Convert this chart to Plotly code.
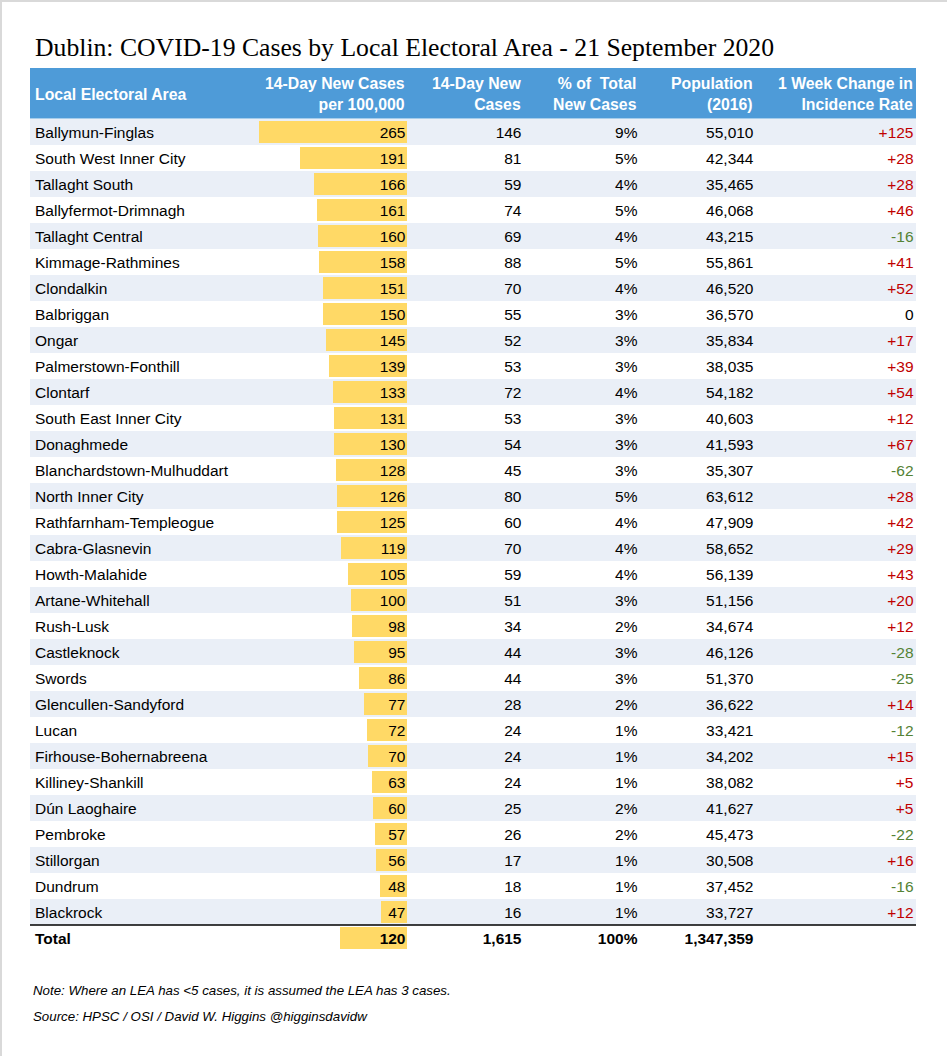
import plotly.graph_objects as go

names = ["Ballymun-Finglas", "South West Inner City", "Tallaght South", "Ballyfermot-Drimnagh",
         "Tallaght Central", "Kimmage-Rathmines", "Clondalkin", "Balbriggan", "Ongar",
         "Palmerstown-Fonthill", "Clontarf", "South East Inner City", "Donaghmede",
         "Blanchardstown-Mulhuddart", "North Inner City", "Rathfarnham-Templeogue",
         "Cabra-Glasnevin", "Howth-Malahide", "Artane-Whitehall", "Rush-Lusk", "Castleknock",
         "Swords", "Glencullen-Sandyford", "Lucan", "Firhouse-Bohernabreena", "Killiney-Shankill",
         "Dún Laoghaire", "Pembroke", "Stillorgan", "Dundrum", "Blackrock"]
rate = [265, 191, 166, 161, 160, 158, 151, 150, 145, 139, 133, 131, 130, 128, 126, 125,
        119, 105, 100, 98, 95, 86, 77, 72, 70, 63, 60, 57, 56, 48, 47]
cases = [146, 81, 59, 74, 69, 88, 70, 55, 52, 53, 72, 53, 54, 45, 80, 60,
         70, 59, 51, 34, 44, 44, 28, 24, 24, 24, 25, 26, 17, 18, 16]
pct = [9, 5, 4, 5, 4, 5, 4, 3, 3, 3, 4, 3, 3, 3, 5, 4,
       4, 4, 3, 2, 3, 3, 2, 1, 1, 1, 2, 2, 1, 1, 1]
population = [55010, 42344, 35465, 46068, 43215, 55861, 46520, 36570, 35834, 38035, 54182,
              40603, 41593, 35307, 63612, 47909, 58652, 56139, 51156, 34674, 46126, 51370,
              36622, 33421, 34202, 38082, 41627, 45473, 30508, 37452, 33727]
change = [125, 28, 28, 46, -16, 41, 52, 0, 17, 39, 54, 12, 67, -62, 28, 42,
          29, 43, 20, 12, -28, -25, 14, -12, 15, 5, 5, -22, 16, -16, 12]

total_label = "Total"
total_rate = 120
total_cases = 1615
total_pct = 100
total_population = 1347359

headers = ["Local Electoral Area", "14-Day New Cases<br>per 100,000", "14-Day New<br>Cases",
           "% of  Total<br>New Cases", "Population<br>(2016)", "1 Week Change in<br>Incidence Rate"]

title = "Dublin: COVID-19 Cases by Local Electoral Area - 21 September 2020"
note1 = "Note: Where an LEA has <5 cases, it is assumed the LEA has 3 cases."
note2 = "Source: HPSC / OSI / David W. Higgins @higginsdavidw"

# ---- layout geometry (pixels) ----
W, H = 947, 1056
L, R, T, B = 30, 31, 119, 105
PW, PH = W - L - R, H - T - B
ROW_PX = PH / 32.0


def px_x(px):
    return (px - L) / PW


def px_y(py):
    return (H - B - py) / PH


FONT = "Liberation Sans, Arial, sans-serif"
FS = 15.5
HFS = 15.8
BLUE = "#4E9BD8"
STRIPE = "#EAEFF7"
GOLD = "#FFD966"
RED = "#C00000"
GREEN = "#548235"

cats = names + [total_label]
col_x = [px_x(35), px_x(405.5), px_x(521.5), px_x(637.5), px_x(753.5), px_x(913.5)]
hdr_x = [px_x(33), px_x(407), px_x(523), px_x(639), px_x(755), px_x(915)]

fig = go.Figure()

# row stripes (bottom subplot)
fig.add_trace(go.Bar(
    y=names, x=[1] * len(names), orientation="h", width=1,
    marker=dict(color=[STRIPE if i % 2 == 0 else "rgba(0,0,0,0)" for i in range(len(names))],
                line=dict(width=0)),
    xaxis="x", yaxis="y", hoverinfo="skip", showlegend=False))

# in-cell bars (middle subplot)
fig.add_trace(go.Bar(
    y=cats, x=rate + [total_rate], orientation="h", width=0.85,
    marker=dict(color=GOLD, line=dict(width=0)),
    xaxis="x2", yaxis="y", hoverinfo="skip", showlegend=False))


def fmt_change(v):
    return f"+{v}" if v > 0 else str(v)


def change_color(v):
    return RED if v > 0 else (GREEN if v < 0 else "#000000")


columns = [
    (names, "middle right", ["#000000"] * len(names)),
    ([str(v) for v in rate], "middle left", ["#000000"] * len(names)),
    ([f"{v:,}" for v in cases], "middle left", ["#000000"] * len(names)),
    ([f"{v}%" for v in pct], "middle left", ["#000000"] * len(names)),
    ([f"{v:,}" for v in population], "middle left", ["#000000"] * len(names)),
    ([fmt_change(v) for v in change], "middle left", [change_color(v) for v in change]),
]
for cx, (txt, pos, colors) in zip(col_x, columns):
    fig.add_trace(go.Scatter(
        x=[cx] * len(names), y=names, text=txt, mode="text", textposition=pos,
        textfont=dict(family=FONT, size=FS, color=colors),
        xaxis="x3", yaxis="y2", hoverinfo="skip", showlegend=False))

total_txt = [total_label, str(total_rate), f"{total_cases:,}", f"{total_pct}%", f"{total_population:,}"]
for i, t in enumerate(total_txt):
    fig.add_trace(go.Scatter(
        x=[col_x[i]], y=[total_label], text=[f"<b>{t}</b>"], mode="text",
        textposition="middle right" if i == 0 else "middle left",
        textfont=dict(family=FONT, size=FS, color="#000000"),
        xaxis="x3", yaxis="y2", hoverinfo="skip", showlegend=False))

shapes = [
    # header band
    dict(type="rect", xref="paper", yref="paper", x0=0, x1=1, y0=px_y(118.6), y1=px_y(68),
         fillcolor=BLUE, line=dict(width=0), layer="below"),
    # total line
    dict(type="line", xref="paper", yref="y", x0=0, x1=1, y0=len(names) - 0.5, y1=len(names) - 0.5,
         line=dict(color="#000000", width=1.3)),
    # outer frame (left & top)
    dict(type="line", xref="paper", yref="paper", x0=px_x(1), x1=px_x(1), y0=px_y(H), y1=px_y(0),
         line=dict(color="#D9D9D9", width=2)),
    dict(type="line", xref="paper", yref="paper", x0=px_x(0), x1=px_x(W), y0=px_y(1), y1=px_y(1),
         line=dict(color="#D9D9D9", width=2)),
]

annotations = [
    dict(text=title, xref="paper", yref="paper", x=px_x(33), y=px_y(48), xanchor="left",
         yanchor="middle", showarrow=False,
         font=dict(family="Liberation Serif, Times New Roman, serif", size=25.7, color="#000000")),
    dict(text=note1, xref="paper", yref="paper", x=px_x(31), y=px_y(990), xanchor="left",
         yanchor="middle", showarrow=False, font=dict(family=FONT, size=13.3, color="#000000", style="italic")),
    dict(text=note2, xref="paper", yref="paper", x=px_x(31), y=px_y(1016), xanchor="left",
         yanchor="middle", showarrow=False, font=dict(family=FONT, size=13.3, color="#000000", style="italic")),
]
for i, h in enumerate(headers):
    annotations.append(dict(
        text=f"<b>{h}</b>", xref="paper", yref="paper", x=hdr_x[i], y=px_y(94),
        xanchor="left" if i == 0 else "right", yanchor="middle",
        align="left" if i == 0 else "right", showarrow=False,
        font=dict(family=FONT, size=HFS, color="#FFFFFF")))

shift = 2.0 / ROW_PX  # nudge row text down to sit on the row centre
fig.update_layout(
    width=W, height=H, margin=dict(l=L, r=R, t=T, b=B, pad=0),
    paper_bgcolor="#FFFFFF", plot_bgcolor="rgba(0,0,0,0)",
    barmode="overlay", bargap=0,
    xaxis=dict(domain=[0, 1], range=[0, 1], visible=False, fixedrange=True),
    xaxis2=dict(domain=[0, px_x(407)], range=[377 / 0.5585, 0], visible=False,
                anchor="y", fixedrange=True),
    xaxis3=dict(domain=[0, 1], range=[0, 1], visible=False, anchor="y2", fixedrange=True),
    yaxis=dict(type="category", categoryarray=cats, categoryorder="array",
               range=[len(cats) - 0.5, -0.5], visible=False, fixedrange=True),
    yaxis2=dict(type="category", categoryarray=cats, categoryorder="array",
                range=[len(cats) - 0.5 - shift, -0.5 - shift], visible=False, fixedrange=True,
                anchor="x3"),
    shapes=shapes, annotations=annotations, showlegend=False,
)

fig.write_html("out.html", config={"displayModeBar": False},
               post_script="document.body.style.margin='0px';")
